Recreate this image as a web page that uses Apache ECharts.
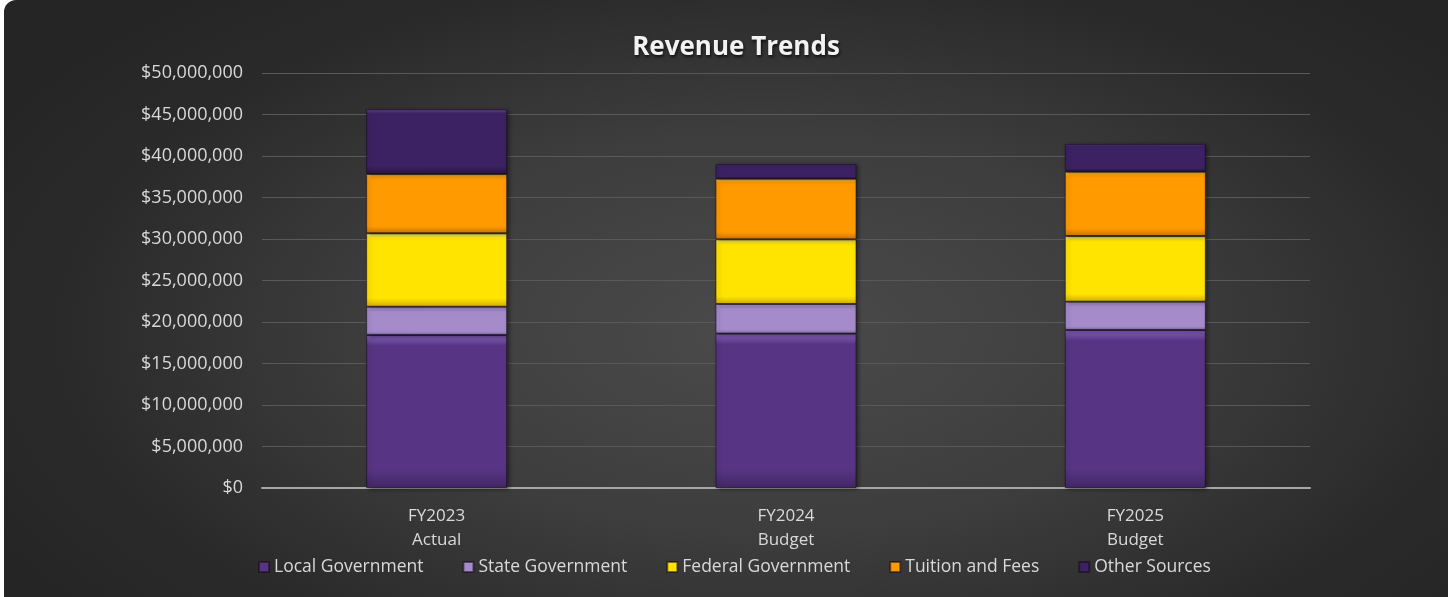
<!DOCTYPE html>
<html>
<head>
<meta charset="utf-8">
<script src="https://cdn.jsdelivr.net/npm/echarts@6/dist/echarts.min.js"></script>
<style>
  html, body { margin: 0; padding: 0; background: #ffffff; width: 1448px; height: 597px; overflow: hidden; }
  #panel {
    position: absolute; left: 4px; top: 0; width: 1470px; height: 640px;
    border-radius: 12px;
    background: radial-gradient(ellipse 60% 70% at 52% 52%, #4b4b4b 0%, #3d3d3d 45%, #2a2a2a 80%, #252525 100%);
  }
  #chart { position: absolute; left: 0; top: 0; width: 1448px; height: 597px; }
</style>
</head>
<body>
<div id="panel"></div>
<div id="chart"></div>
<script>
// Fiscal years shown on the category axis
const categories = ['FY2023\nActual', 'FY2024\nBudget', 'FY2025\nBudget'];

// Revenue by source, in dollars
const localGovernment   = [18430000, 18600000, 19040000];
const stateGovernment   = [3410000, 3570000, 3410000];
const federalGovernment = [8850000, 7790000, 7910000];
const tuitionAndFees    = [7140000, 7310000, 7750000];
const otherSources      = [7800000, 1770000, 3340000];

// Value axis ticks
const axisMax = 50000000;
const axisStep = 5000000;

const fontFamily = '"Open Sans", "Noto Sans", sans-serif';

// Bevelled look: light band on top, base tone, darker band at the bottom
function bevel(light, base, dark) {
  return new echarts.graphic.LinearGradient(0, 0, 0, 1, [
    { offset: 0, color: light },
    { offset: 0.07, color: base },
    { offset: 0.88, color: base },
    { offset: 1, color: dark }
  ]);
}

const seriesDefs = [
  { name: 'Local Government',   data: localGovernment,   colors: ['#8560bb', '#573584', '#432766'] },
  { name: 'State Government',   data: stateGovernment,   colors: ['#dcc8f5', '#a68bcb', '#806aa2'] },
  { name: 'Federal Government', data: federalGovernment, colors: ['#fff678', '#ffe400', '#d6b200'] },
  { name: 'Tuition and Fees',   data: tuitionAndFees,    colors: ['#ffc84f', '#ff9a00', '#cf7600'] },
  { name: 'Other Sources',      data: otherSources,      colors: ['#66449a', '#3c2262', '#291544'] }
];

const chart = echarts.init(document.getElementById('chart'), null, { renderer: 'canvas' });

const money = v => '$' + v.toLocaleString('en-US');

chart.setOption({
  backgroundColor: 'transparent',
  animation: false,
  title: {
    text: 'Revenue Trends',
    left: 731,
    top: 30,
    textAlign: 'center',
    textStyle: {
      color: '#f2f2f2',
      fontFamily: fontFamily,
      fontWeight: 'bold',
      fontSize: 26,
      textShadowColor: 'rgba(0,0,0,0.7)',
      textShadowBlur: 3,
      textShadowOffsetX: 1,
      textShadowOffsetY: 2
    }
  },
  legend: {
    left: 253,
    top: 553,
    itemWidth: 10,
    itemHeight: 10,
    itemGap: 39,
    icon: 'rect',
    textStyle: { color: '#d9d9d9', fontFamily: fontFamily, fontSize: 17.5 }
  },
  grid: { left: 262, right: 138, top: 73, bottom: 109 },
  xAxis: {
    type: 'category',
    data: categories,
    axisLine: { lineStyle: { color: '#a6a6a6', width: 2 } },
    axisTick: { show: false },
    axisLabel: {
      color: '#d9d9d9',
      fontFamily: fontFamily,
      fontSize: 17,
      lineHeight: 24,
      margin: 16
    }
  },
  yAxis: {
    type: 'value',
    min: 0,
    max: axisMax,
    interval: axisStep,
    axisLine: { show: false },
    axisTick: { show: false },
    splitLine: { lineStyle: { color: '#595959', width: 1 } },
    axisLabel: {
      color: '#d9d9d9',
      fontFamily: fontFamily,
      fontSize: 18,
      margin: 19,
      formatter: money
    }
  },
  series: seriesDefs.map(s => ({
    name: s.name,
    type: 'bar',
    stack: 'revenue',
    data: s.data,
    barWidth: 141,
    itemStyle: {
      color: bevel(s.colors[0], s.colors[1], s.colors[2]),
      borderColor: 'rgba(20,10,30,0.55)',
      borderWidth: 1,
      shadowColor: 'rgba(0,0,0,0.45)',
      shadowBlur: 4,
      shadowOffsetX: 2,
      shadowOffsetY: 1
    }
  }))
});
</script>
</body>
</html>
